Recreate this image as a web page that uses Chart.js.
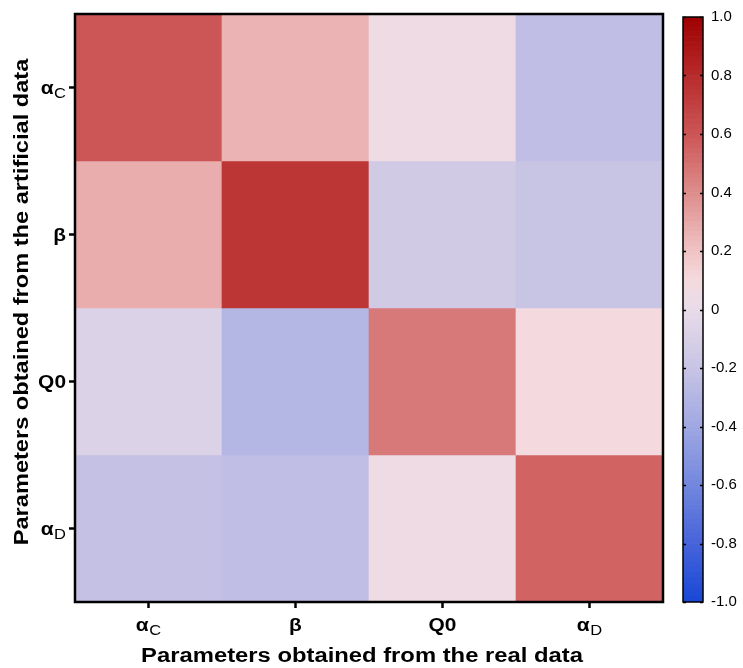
<!DOCTYPE html>
<html><head><meta charset="utf-8">
<script src="https://cdn.jsdelivr.net/npm/chart.js@4/dist/chart.umd.min.js"></script>
<style>
html,body{margin:0;padding:0;background:#fff;}
#wrap{position:relative;width:743px;height:668px;}
canvas{position:absolute;left:0;top:0;}
</style></head>
<body><div id="wrap"><canvas id="c1" width="743" height="668"></canvas><canvas id="c2" width="743" height="668"></canvas></div>
<script>
// ---- data ----
const colLabels = ['αC', 'β', 'Q0', 'αD'];          // x: real data
const rowLabels = ['αC', 'β', 'Q0', 'αD'];          // y: artificial data (top to bottom)
const rowAlphaC = [0.60, 0.26, 0.05, -0.24];
const rowBeta   = [0.28, 0.75, -0.15, -0.20];
const rowQ0     = [-0.08, -0.30, 0.47, 0.10];
const rowAlphaD = [-0.22, -0.24, 0.05, 0.55];
const matrix = [rowAlphaC, rowBeta, rowQ0, rowAlphaD];
const colorbarTicks = [-1, -0.8, -0.6, -0.4, -0.2, 0, 0.2, 0.4, 0.6, 0.8, 1];
const xTitle = 'Parameters obtained from the real data';
const yTitle = 'Parameters obtained from the artificial data';

// ---- colour scale ----
const stopVals = [-1.0, -0.8, -0.6, -0.4, -0.2, 0.0, 0.1, 0.2, 0.4, 0.6, 0.8, 1.0];
const stopCols = [[26,71,214],[70,100,218],[115,135,222],[160,168,226],[200,196,228],[232,220,233],[244,218,222],[240,195,195],[222,140,140],[204,85,85],[183,43,43],[158,0,0]];
function colorFor(v){
  v = Math.max(-1, Math.min(1, v));
  for (let i = 0; i < stopVals.length - 1; i++) {
    if (v <= stopVals[i+1]) {
      const t = (v - stopVals[i]) / (stopVals[i+1] - stopVals[i]);
      const a = stopCols[i], b = stopCols[i+1];
      return 'rgb(' + a.map((x,k)=>Math.round(x + (b[k]-x)*t)).join(',') + ')';
    }
  }
  return 'rgb(158,0,0)';
}

const FONT = '"Liberation Sans", Arial, sans-serif';
function splitLabel(s){
  if (s.startsWith('α')) return {main:'α', sub:s.slice(1)};
  return {main:s, sub:''};
}
const SX = 1.1; // horizontal stretch of tick label glyphs
function drawLabel(ctx, s, x, y, align){
  const p = splitLabel(s);
  ctx.save();
  ctx.fillStyle = '#000';
  ctx.textBaseline = 'alphabetic';
  ctx.textAlign = 'left';
  const mf = 'bold 19px ' + FONT, sf = '15px ' + FONT;
  ctx.font = mf; const mw = ctx.measureText(p.main).width * SX;
  ctx.font = sf; const sw = p.sub ? ctx.measureText(p.sub).width * SX + 0.5 : 0;
  const w = mw + sw;
  let x0 = align === 'right' ? x - w : x - w/2;
  ctx.translate(x0, y);
  ctx.scale(SX, 1);
  ctx.font = mf; ctx.fillText(p.main, 0, 0);
  if (p.sub) { ctx.font = sf; ctx.fillText(p.sub, (mw + 0.5) / SX, 4); }
  ctx.restore();
}

// ---- heatmap ----
const datasets = matrix.map((row, i) => ({
  label: rowLabels[i],
  data: row.map(() => [i - 0.5, i + 0.5]),
  backgroundColor: row.map(colorFor),
  borderWidth: 0,
  barPercentage: 1,
  categoryPercentage: 1,
  grouped: false
}));

const framePlugin = {
  id: 'frame',
  afterDraw(chart){
    const {ctx, chartArea: a, scales} = chart;
    ctx.save();
    ctx.strokeStyle = '#000';
    ctx.lineWidth = 2.5;
    ctx.strokeRect(a.left, a.top, a.right - a.left, a.bottom - a.top);
    ctx.restore();
    const xs = scales.x, ys = scales.y;
    colLabels.forEach((l, i) => drawLabel(ctx, l, xs.getPixelForValue(i), 631, 'center'));
    rowLabels.forEach((l, i) => drawLabel(ctx, l, 66, ys.getPixelForValue(i) + 6, 'right'));
    // axis titles
    ctx.save();
    ctx.fillStyle = '#000';
    ctx.font = 'bold 20px ' + FONT;
    ctx.textAlign = 'center';
    ctx.textBaseline = 'middle';
    ctx.save();
    ctx.translate(362, 656);
    ctx.scale(1.19, 1);
    ctx.fillText(xTitle, 0, 0);
    ctx.restore();
    ctx.translate(22, 302);
    ctx.rotate(-Math.PI / 2);
    ctx.scale(1.18, 1);
    ctx.fillText(yTitle, 0, 0);
    ctx.restore();
  }
};

new Chart(document.getElementById('c1'), {
  type: 'bar',
  data: { labels: colLabels, datasets },
  options: {
    responsive: false, animation: false,
    layout: { padding: { top: 14, right: 80, left: 0, bottom: 0 } },
    plugins: { legend: { display: false }, tooltip: { enabled: false } },
    scales: {
      x: {
        type: 'category', offset: true,
        grid: { offset: false, drawOnChartArea: false, drawTicks: true, tickLength: 6, tickWidth: 2.5, tickColor: '#000' },
        border: { display: false },
        ticks: { display: false },
        title: { display: false },
        afterFit(s){ s.height = 66; }
      },
      y: {
        type: 'linear', min: -0.5, max: 3.5, reverse: true,
        afterBuildTicks(s){ s.ticks = [0,1,2,3].map(v => ({value: v})); },
        grid: { drawOnChartArea: false, drawTicks: true, tickLength: 6, tickWidth: 2.5, tickColor: '#000' },
        border: { display: false },
        ticks: { display: false },
        title: { display: false },
        afterFit(s){ s.width = 75; }
      }
    }
  },
  plugins: [framePlugin]
});

// ---- colour bar ----
const nSeg = 120;
const cbDatasets = [];
for (let k = 0; k < nSeg; k++) {
  const a = -1 + 2 * k / nSeg, b = -1 + 2 * (k + 1) / nSeg;
  cbDatasets.push({ data: [[a, b]], backgroundColor: colorFor((a + b) / 2), borderWidth: 0,
    barPercentage: 1, categoryPercentage: 1, grouped: false });
}
const cbPlugin = {
  id: 'cbframe',
  afterDraw(chart){
    const {ctx, chartArea: a, scales} = chart;
    ctx.save();
    ctx.strokeStyle = '#000';
    ctx.lineWidth = 1.5;
    colorbarTicks.forEach(v => {
      const y = Math.round(scales.y.getPixelForValue(v)) + 0.5;
      ctx.beginPath();
      ctx.moveTo(a.left, y); ctx.lineTo(a.left + 3, y);
      ctx.moveTo(a.right - 3, y); ctx.lineTo(a.right, y);
      ctx.stroke();
    });
    ctx.strokeRect(a.left, a.top, a.right - a.left, a.bottom - a.top);
    ctx.restore();
  }
};
new Chart(document.getElementById('c2'), {
  type: 'bar',
  data: { labels: ['cb'], datasets: cbDatasets },
  options: {
    responsive: false, animation: false,
    layout: { padding: { top: 14, right: 0, left: 683, bottom: 66 } },
    plugins: { legend: { display: false }, tooltip: { enabled: false } },
    scales: {
      x: { display: false },
      y: {
        type: 'linear', position: 'right', min: -1, max: 1,
        afterBuildTicks(s){ s.ticks = colorbarTicks.map(v => ({value: v})); },
        grid: { display: false, drawTicks: false },
        border: { display: false },
        ticks: { color: '#000', padding: 8, font: { family: FONT, size: 15 },
                 callback: v => v === 0 ? '0' : v.toFixed(1) },
        afterFit(s){ s.width = 40; }
      }
    }
  },
  plugins: [cbPlugin]
});
</script></body></html>
